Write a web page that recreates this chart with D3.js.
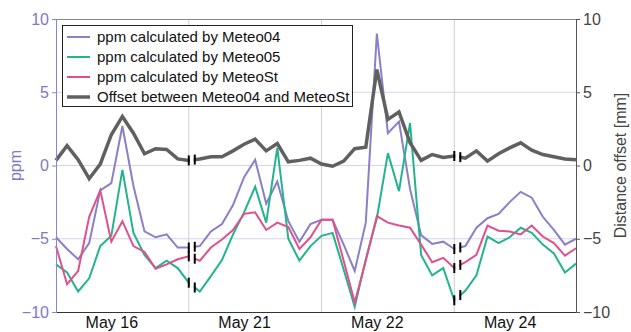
<!DOCTYPE html>
<html>
<head>
<meta charset="utf-8">
<script src="https://cdn.jsdelivr.net/npm/d3@7"></script>
<style>
  body { margin: 0; background: #fff; }
  svg { font-family: "Liberation Sans", Arial, sans-serif; }
</style>
</head>
<body>
<script>
// 2-hourly samples, 4 day blocks (May 16 | May 21 + May 22 | May 24)
var dayLabels = ['May 16', 'May 21', 'May 22', 'May 24'];
var dayTickIdx = [5, 17, 29, 41];
var blockEdges = [12, 24, 36];
var breakIdx = [12, 36];

var meteo04 = [-4.9, -5.7, -6.4, -5.3, -1.7, -1.2, 2.7, -1.4, -4.5, -4.9, -4.7, -5.6, -5.6,
  -5.5, -4.5, -4.0, -2.7, -0.8, 0.4, -2.6, -1.1, -3.8, -5.2, -4.0,
  -3.7, -3.7, -5.4, -7.2, -3.9, 9.0, 2.2, 3.0, -1.6, -4.75, -5.35, -5.2, -5.7,
  -5.5, -4.25, -3.6, -3.3, -2.5, -1.8, -2.2, -3.5, -4.4, -5.4, -5.0];
var meteo05 = [-6.75, -7.3, -8.6, -7.7, -5.5, -4.8, -0.3, -4.6, -6.1, -7.0, -6.5, -7.0, -8.0,
  -8.6, -7.55, -6.45, -4.7, -3.2, -1.45, -3.9, 1.2, -5.0, -6.5, -5.5,
  -4.8, -4.6, -7.1, -9.65, -6.4, -3.6, 0.85, -1.75, 2.9, -6.1, -7.5, -7.0, -9.2,
  -8.55, -7.5, -4.85, -5.3, -4.9, -4.25, -4.6, -5.4, -6.0, -7.3, -6.7];
var meteoSt = [-5.5, -8.1, -7.2, -3.5, -1.7, -5.2, -3.8, -5.5, -5.9, -7.05, -6.75, -6.4, -6.2,
  -6.5, -5.6, -5.05, -4.4, -3.3, -3.2, -4.4, -3.9, -4.2, -5.7, -4.9,
  -3.7, -3.7, -6.5, -9.35, -6.5, -3.45, -3.9, -4.1, -4.25, -5.4, -6.6, -6.3, -7.0,
  -6.6, -6.1, -4.1, -4.45, -4.5, -4.7, -4.1, -4.85, -5.3, -6.15, -5.65];
var offset = [0.35, 1.35, 0.4, -0.9, 0.1, 2.1, 3.35, 2.2, 0.8, 1.15, 1.1, 0.45, 0.35,
  0.45, 0.6, 0.6, 1.0, 1.45, 1.8, 1.0, 1.5, 0.25, 0.35, 0.5,
  0.1, -0.05, 0.3, 1.15, 1.25, 6.55, 3.15, 3.65, 1.55, 0.35, 0.75, 0.55, 0.65,
  0.5, 1.0, 0.3, 0.8, 1.2, 1.55, 1.05, 0.75, 0.6, 0.45, 0.4];

var yTicks = [-10, -5, 0, 5, 10];

var series = [
  { name: 'ppm calculated by Meteo04', values: meteo04, color: '#8a7fc8', width: 2 },
  { name: 'ppm calculated by Meteo05', values: meteo05, color: '#22b48c', width: 2 },
  { name: 'ppm calculated by MeteoSt', values: meteoSt, color: '#e0508c', width: 2 },
  { name: 'Offset between Meteo04 and MeteoSt', values: offset, color: '#606060', width: 3.5 }
];

var W = 631, H = 332;
var padL = 56, padR = 576, padT = 19, padB = 312;
var gapW = 6;

var svg = d3.select('body').append('svg').attr('width', W).attr('height', H);

var x = d3.scaleLinear().domain([0, meteo04.length - 1]).range([padL, padR]);
var y = d3.scaleLinear().domain([-10, 10]).range([padB, padT]);   // ppm
var y2 = d3.scaleLinear().domain([-10, 10]).range([padB, padT]);  // mm

// grid
svg.append('g').selectAll('line').data([-5, 0, 5]).join('line')
  .attr('x1', padL).attr('x2', padR)
  .attr('y1', d => y(d)).attr('y2', d => y(d))
  .style('stroke', '#d4d4ee').style('stroke-width', 1);
svg.append('g').selectAll('line').data(blockEdges).join('line')
  .attr('x1', d => x(d)).attr('x2', d => x(d))
  .attr('y1', padT).attr('y2', padB)
  .style('stroke', '#cfcfcf').style('stroke-width', 1);

// top border
svg.append('line').attr('x1', padL).attr('x2', padR).attr('y1', padT + 0.5).attr('y2', padT + 0.5)
  .style('stroke', '#8a8a8a').style('stroke-width', 1);

// clip that cuts a small gap into every line at each break
var cuts = [padL - 10];
breakIdx.forEach(function (b) { cuts.push(x(b) + 1, x(b) + gapW - 1); });
cuts.push(padR + 10);
var clip = svg.append('defs').append('clipPath').attr('id', 'breakclip');
for (var c = 0; c < cuts.length; c += 2) {
  clip.append('rect').attr('x', cuts[c]).attr('y', 0)
    .attr('width', cuts[c + 1] - cuts[c]).attr('height', H);
}

// lines
var line = d3.line().x((d, i) => x(i)).y(d => y(d));
series.forEach(function (s) {
  svg.append('path').datum(s.values)
    .attr('d', line)
    .attr('clip-path', 'url(#breakclip)')
    .style('fill', 'none')
    .style('stroke', s.color)
    .style('stroke-width', s.width)
    .style('stroke-linejoin', 'miter');
});

// axis break marks
series.forEach(function (s) {
  breakIdx.forEach(function (b) {
    [0, gapW].forEach(function (dx) {
      var px = x(b) + dx;
      var v = s.values[b] + (s.values[b + 1] - s.values[b]) * (dx / (x(b + 1) - x(b)));
      svg.append('line')
        .attr('x1', px).attr('x2', px)
        .attr('y1', y(v) - 5).attr('y2', y(v) + 5)
        .style('stroke', '#000').style('stroke-width', 2);
    });
  });
});

// axes
var ax = svg.append('g').attr('transform', 'translate(0,' + padB + ')')
  .call(d3.axisBottom(x).tickValues(dayTickIdx).tickFormat((d, i) => dayLabels[i]).tickSize(0).tickPadding(5));
ax.select('.domain').style('stroke', '#333');
ax.selectAll('text').style('font-size', '16px').style('fill', '#111');

var ay = svg.append('g').attr('transform', 'translate(' + padL + ',0)')
  .call(d3.axisLeft(y).tickValues(yTicks).tickSize(4).tickSizeOuter(0).tickPadding(3));
ay.select('.domain').style('stroke', '#8a85c8');
ay.selectAll('.tick line').style('stroke', '#8a85c8');
ay.selectAll('text').style('font-size', '16px').style('fill', '#7f78c2');

var ay2 = svg.append('g').attr('transform', 'translate(' + padR + ',0)')
  .call(d3.axisRight(y2).tickValues(yTicks).tickSize(4).tickSizeOuter(0).tickPadding(3));
ay2.select('.domain').style('stroke', '#555');
ay2.selectAll('.tick line').style('stroke', '#555');
ay2.selectAll('text').style('font-size', '16px').style('fill', '#444');

svg.append('text')
  .attr('transform', 'translate(21,' + (padT + padB) / 2 + ') rotate(-90)')
  .attr('text-anchor', 'middle')
  .style('font-size', '16px').style('fill', '#7f78c2')
  .text('ppm');

svg.append('text')
  .attr('transform', 'translate(626,' + (padT + padB) / 2 + ') rotate(-90)')
  .attr('text-anchor', 'middle')
  .style('font-size', '16px').style('fill', '#444')
  .text('Distance offset [mm]');

// legend
var lg = svg.append('g').attr('transform', 'translate(62,25)');
lg.append('rect').attr('x', 0.5).attr('y', 0.5).attr('width', 290).attr('height', 81)
  .style('fill', '#fff').style('stroke', '#222').style('stroke-width', 1);
series.forEach(function (s, i) {
  var ry = 12 + i * 20;
  lg.append('line').attr('x1', 5).attr('x2', 28).attr('y1', ry).attr('y2', ry)
    .style('stroke', s.color).style('stroke-width', s.width);
  lg.append('text').attr('x', 35).attr('y', ry + 5)
    .style('font-size', '15px').style('fill', '#111')
    .text(s.name);
});
</script>
</body>
</html>
